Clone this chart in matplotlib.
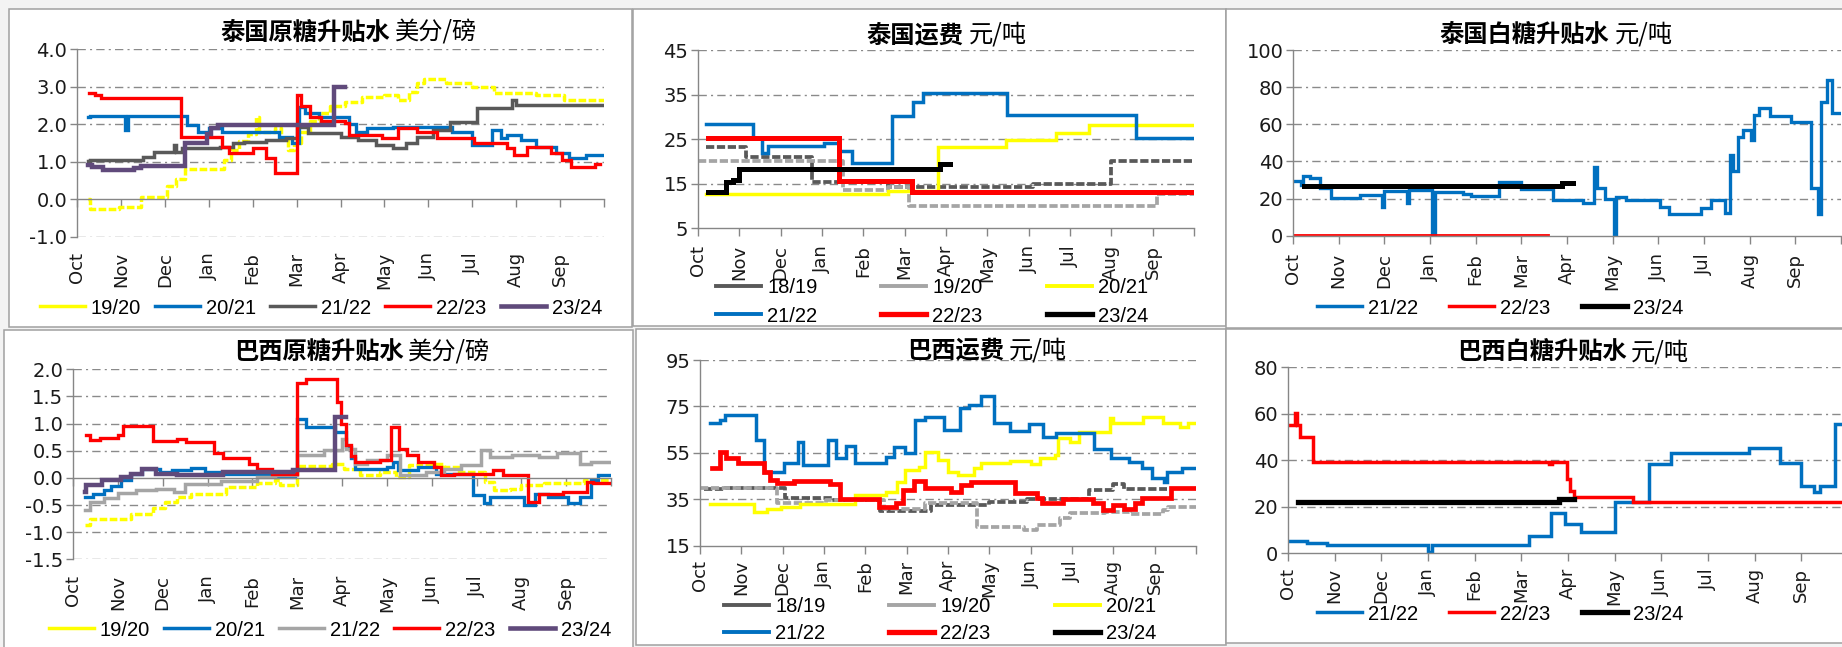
import matplotlib
matplotlib.use('Agg')
import matplotlib.pyplot as plt
from matplotlib.lines import Line2D
from matplotlib.patches import Rectangle
from matplotlib.font_manager import FontProperties
import matplotlib.transforms as mtransforms

W, H = 1842, 647
fig = plt.figure(figsize=(W / 100, H / 100), dpi=100, facecolor='#f3f3f3')

MONTHS = ['Oct', 'Nov', 'Dec', 'Jan', 'Feb', 'Mar', 'Apr', 'May', 'Jun', 'Jul', 'Aug', 'Sep']

# ---------------- data: (month index since 1 Oct, value) breakpoints ----------------
# Thailand raw sugar premium (US cents/lb)
th_raw_1920 = [(0.25, 0.0), (0.3, -0.25), (0.95, -0.2), (1.45, 0.05), (2.05, 0.35), (2.25, 0.55), (2.45, 0.8),
               (3.35, 1.05), (3.5, 1.3), (3.7, 1.55), (3.9, 1.75), (4.08, 2.2), (4.15, 1.8), (4.5, 1.9), (4.65, 1.6),
               (4.8, 1.3), (4.95, 1.5), (5.1, 1.8), (5.3, 2.1), (5.5, 2.3), (5.75, 2.5), (6.1, 2.6), (6.5, 2.72),
               (7.0, 2.78), (7.3, 2.65), (7.55, 2.85), (7.75, 3.1), (7.9, 3.22), (8.4, 3.1), (9.0, 3.0), (9.5, 2.84),
               (10.45, 2.78), (11.1, 2.65), (12.0, 2.65)]
th_raw_2021 = [(0.24, 2.19), (0.3, 2.22), (1.1, 1.85), (1.15, 2.22), (2.5, 1.98), (2.75, 1.8), (3.0, 1.9), (3.3, 1.8),
               (4.6, 1.67), (4.9, 1.5), (5.05, 2.47), (5.2, 2.3), (5.5, 2.2), (6.2, 2.0), (6.35, 1.8), (6.6, 1.9),
               (7.2, 1.94), (8.55, 1.8), (9.0, 1.45), (9.45, 1.85), (9.65, 1.63), (9.8, 1.72), (10.1, 1.58),
               (10.45, 1.4), (10.9, 1.23), (11.2, 1.1), (11.6, 1.18), (12.0, 1.18)]
th_raw_2122 = [(0.24, 1.03), (0.3, 1.05), (1.5, 1.13), (1.75, 1.27), (2.2, 1.45), (2.25, 1.27), (2.4, 1.36),
               (3.25, 1.4), (3.55, 1.5), (3.8, 1.53), (4.3, 1.58), (4.75, 1.63), (5.0, 1.94), (5.25, 1.76),
               (6.0, 1.67), (6.4, 1.58), (6.8, 1.45), (7.2, 1.36), (7.5, 1.5), (7.75, 1.67), (8.1, 1.85),
               (8.5, 2.07), (9.1, 2.43), (9.9, 2.65), (10.0, 2.52), (12.0, 2.52)]
th_raw_2223 = [(0.28, 2.84), (0.4, 2.78), (0.55, 2.7), (2.37, 1.67), (3.3, 1.4), (3.45, 1.23), (4.0, 1.36),
               (4.3, 1.1), (4.5, 0.7), (5.0, 2.78), (5.1, 2.5), (5.3, 2.2), (5.55, 2.1), (6.1, 2.03), (6.2, 1.72),
               (6.95, 1.63), (7.3, 1.9), (7.75, 1.8), (8.2, 1.63), (9.05, 1.5), (9.8, 1.36), (9.95, 1.18),
               (10.25, 1.4), (10.8, 1.23), (11.05, 1.05), (11.25, 0.87), (11.8, 0.95), (11.9, 0.95)]
th_raw_2324 = [(0.24, 0.9), (0.35, 0.85), (0.6, 0.78), (1.3, 0.83), (1.45, 0.89), (2.45, 1.5), (2.95, 1.75),
               (3.05, 1.9), (3.2, 1.98), (5.85, 3.0), (6.1, 3.0)]

# Thailand freight (yuan/t)
th_frt_1819 = [(0.2, 23.3), (1.15, 21.0), (2.75, 15.3), (4.6, 14.3), (8.1, 14.9), (10.0, 20.1), (11.95, 20.1)]
th_frt_1920 = [(0.0, 20.1), (3.5, 13.6), (4.6, 14.3), (5.1, 10.1), (11.1, 12.6), (12.0, 12.6)]
th_frt_2021 = [(0.2, 12.6), (4.6, 13.4), (5.8, 23.3), (7.45, 24.8), (8.65, 26.3), (9.45, 28.2), (12.0, 28.2)]
th_frt_2122 = [(0.2, 28.3), (1.33, 25.3), (1.55, 22.0), (1.7, 23.5), (3.06, 24.2), (3.4, 22.3), (3.72, 19.6),
               (4.69, 30.2), (5.2, 33.3), (5.45, 35.3), (7.47, 30.4), (10.6, 25.2), (12.0, 25.2)]
th_frt_2223 = [(0.24, 25.3), (3.42, 15.5), (5.17, 13.2), (12.0, 13.2)]
th_frt_2324 = [(0.24, 13.1), (0.68, 15.3), (0.85, 15.8), (0.98, 18.3), (5.85, 19.4), (6.1, 19.4)]

# Thailand white sugar premium (yuan/t)
th_wht_2122 = [(0.0, 29.4), (0.18, 27.3), (0.22, 32.0), (0.37, 31.2), (0.6, 25.5), (0.84, 20.1), (1.46, 21.9),
               (1.95, 15.6), (2.0, 24.2), (2.5, 17.4), (2.55, 24.6), (3.05, 0.0), (3.12, 23.7), (3.72, 22.3),
               (3.9, 21.4), (4.5, 28.7), (5.0, 25.1), (5.7, 19.2), (6.36, 17.4), (6.6, 37.2), (6.65, 25.5),
               (6.83, 20.0), (7.02, 0.0), (7.08, 21.0), (7.3, 19.2), (8.03, 15.6), (8.23, 11.5), (8.93, 14.7),
               (9.16, 19.2), (9.47, 12.0), (9.58, 43.4), (9.63, 34.8), (9.74, 53.3), (9.86, 57.0), (10.02, 51.5),
               (10.1, 65.0), (10.2, 68.6), (10.44, 64.5), (10.9, 61.4), (11.35, 25.5), (11.5, 11.5), (11.57, 72.0),
               (11.7, 84.0), (11.8, 66.0), (12.05, 66.0)]
th_wht_2223 = [(0.0, 0.3), (5.6, 0.3)]
th_wht_2324 = [(0.25, 26.7), (5.9, 28.2), (6.13, 28.2)]

# Brazil raw sugar premium (US cents/lb)
br_raw_1920 = [(0.26, -0.87), (0.37, -0.75), (1.3, -0.67), (1.78, -0.56), (2.05, -0.44), (2.33, -0.35),
               (2.64, -0.29), (3.42, -0.17), (4.1, -0.1), (4.5, -0.04), (4.62, -0.13), (5.0, 0.21), (5.77, 0.26),
               (6.05, 0.17), (6.4, 0.06), (6.85, 0.11), (7.2, 0.02), (7.5, 0.23), (7.7, 0.26), (8.27, 0.2),
               (8.6, 0.11), (9.2, -0.07), (9.4, -0.23), (9.75, -0.2), (10.0, -0.13), (10.5, -0.1), (11.4, -0.04),
               (12.0, -0.04)]
br_raw_2021 = [(0.26, -0.35), (0.45, -0.29), (0.7, -0.23), (0.85, -0.15), (1.08, -0.04), (1.3, 0.08),
               (1.55, 0.17), (1.94, 0.11), (2.2, 0.14), (2.64, 0.19), (2.95, 0.11), (3.34, 0.08), (4.5, 0.02),
               (4.95, 0.14), (5.0, 1.09), (5.2, 0.94), (5.84, 0.85), (6.08, 0.57), (6.2, 0.36), (6.3, 0.17),
               (7.0, 0.2), (7.13, 0.29), (7.25, 0.14), (7.7, 0.2), (8.1, 0.08), (8.93, -0.32), (9.16, -0.47),
               (9.3, -0.35), (10.05, -0.5), (10.3, -0.29), (10.6, -0.35), (11.05, -0.47), (11.3, -0.35),
               (11.55, -0.04), (11.7, 0.05), (12.0, 0.05)]
br_raw_2122 = [(0.26, -0.6), (0.37, -0.44), (0.69, -0.38), (1.0, -0.28), (1.4, -0.23), (1.86, -0.2),
               (2.25, -0.26), (2.5, -0.12), (3.3, -0.05), (4.1, 0.02), (4.5, 0.05), (5.0, 0.42), (5.6, 0.51),
               (6.0, 0.72), (6.1, 0.54), (6.3, 0.26), (6.55, 0.33), (7.0, 0.42), (7.3, 0.05), (7.87, 0.11),
               (8.27, 0.17), (8.65, 0.23), (9.1, 0.51), (9.3, 0.39), (9.8, 0.42), (10.4, 0.39), (10.8, 0.45),
               (11.3, 0.26), (11.55, 0.29), (12.0, 0.29)]
br_raw_2223 = [(0.3, 0.79), (0.38, 0.7), (0.6, 0.74), (1.0, 0.79), (1.12, 0.95), (1.78, 0.68), (2.33, 0.72),
               (2.52, 0.66), (3.15, 0.45), (3.34, 0.37), (3.93, 0.25), (4.1, 0.17), (4.44, 0.07), (5.0, 1.74),
               (5.2, 1.83), (5.88, 1.4), (5.98, 1.0), (6.08, 0.6), (6.2, 0.4), (6.3, 0.29), (6.85, 0.33),
               (7.1, 0.94), (7.27, 0.54), (7.45, 0.42), (7.7, 0.29), (8.05, 0.2), (8.2, 0.05), (8.5, 0.08),
               (9.36, 0.14), (9.6, 0.05), (10.15, -0.44), (10.4, -0.29), (10.92, -0.26), (11.47, -0.07),
               (11.6, -0.1), (12.0, -0.1)]
br_raw_2324 = [(0.26, -0.26), (0.3, -0.14), (0.65, -0.04), (1.08, 0.02), (1.3, 0.08), (1.55, 0.17), (1.85, 0.08),
               (2.33, 0.05), (3.35, 0.11), (4.9, 0.14), (5.84, 1.12), (6.08, 1.12)]

# Brazil freight (yuan/t)
br_frt_1819 = [(0.1, 39.5), (0.6, 40.0), (2.05, 35.5), (3.2, 34.5), (4.35, 30.0), (5.6, 32.5), (7.0, 34.0),
               (7.9, 35.0), (9.4, 39.0), (10.0, 41.5), (10.25, 39.5), (11.3, 39.5)]
br_frt_1920 = [(0.0, 39.7), (1.87, 33.2), (3.06, 34.7), (4.45, 31.0), (5.45, 33.2), (6.7, 23.2), (7.83, 21.7),
               (8.15, 23.9), (8.7, 26.8), (8.94, 29.0), (9.8, 29.7), (10.4, 28.5), (11.2, 30.4), (11.33, 31.8),
               (12.0, 31.8)]
br_frt_2021 = [(0.24, 33.0), (1.3, 29.7), (1.63, 30.8), (1.95, 31.8), (2.42, 33.0), (3.75, 36.8), (4.5, 38.3),
               (4.77, 42.6), (4.97, 47.6), (5.3, 49.0), (5.45, 55.5), (5.75, 51.9), (6.0, 46.9), (6.24, 45.5),
               (6.64, 48.3), (6.8, 50.5), (7.5, 51.5), (8.0, 50.0), (8.23, 52.6), (8.6, 54.0), (8.66, 61.3),
               (8.95, 59.5), (9.18, 64.0), (9.92, 69.9), (10.0, 67.7), (10.72, 70.6), (11.2, 67.7), (11.62, 66.3),
               (11.8, 67.7), (12.0, 67.7)]
br_frt_2122 = [(0.24, 68.0), (0.48, 69.2), (0.6, 71.3), (1.35, 60.5), (1.55, 46.7), (2.03, 50.5), (2.38, 59.5),
               (2.5, 49.8), (3.1, 60.5), (3.3, 52.6), (3.54, 58.1), (3.74, 50.5), (4.5, 53.4), (4.69, 57.7),
               (4.97, 54.8), (5.2, 69.2), (5.45, 70.6), (5.9, 64.9), (6.28, 74.2), (6.52, 75.6), (6.8, 79.7),
               (7.12, 67.7), (7.5, 64.4), (7.95, 67.4), (8.3, 62.0), (8.62, 63.4), (9.54, 56.7), (9.94, 52.6),
               (10.37, 51.2), (10.7, 48.3), (10.93, 44.0), (11.22, 42.6), (11.3, 46.9), (11.65, 48.3), (12.0, 48.3)]
br_frt_2223 = [(0.28, 48.3), (0.48, 55.5), (0.64, 52.6), (0.91, 50.5), (1.55, 46.9), (1.7, 43.3), (1.87, 41.9),
               (2.27, 42.9), (3.14, 41.5), (3.38, 35.1), (4.33, 31.8), (4.73, 33.3), (4.9, 39.2), (5.17, 42.9),
               (5.45, 39.7), (6.08, 38.3), (6.32, 41.2), (6.56, 42.6), (7.63, 37.6), (8.15, 35.4), (8.27, 33.3),
               (8.78, 35.1), (9.5, 33.3), (9.74, 30.4), (9.98, 32.5), (10.25, 30.8), (10.53, 33.3), (10.7, 35.7),
               (11.4, 39.7), (12.0, 39.7)]

# Brazil white sugar premium (yuan/t)
br_wht_2122 = [(0.0, 5.3), (0.41, 4.6), (0.83, 3.6), (3.0, 0.7), (3.08, 3.6), (5.16, 7.5), (5.63, 17.5),
               (5.93, 12.6), (6.28, 9.3), (7.0, 22.2), (7.74, 38.4), (8.2, 43.3), (9.88, 45.2), (10.54, 39.0),
               (11.0, 29.0), (11.27, 26.5), (11.4, 29.1), (11.73, 55.5), (12.1, 55.5)]
br_wht_2223 = [(0.0, 55.2), (0.14, 60.2), (0.2, 55.0), (0.25, 50.2), (0.53, 39.4), (5.6, 38.4), (5.65, 39.4),
               (5.97, 32.0), (6.05, 27.0), (6.12, 24.4), (7.39, 22.2), (12.1, 22.2)]
br_wht_2324 = [(0.21, 22.2), (5.8, 23.2), (6.12, 23.2)]

# ---------------- styling ----------------
YEL, BLU, DGR, LGR, RED, PUR, BLK = '#FFFF00', '#0070C0', '#595959', '#A5A5A5', '#FF0000', '#604A7B', '#000000'
CJK = ['Noto Sans CJK SC', 'DejaVu Sans']
NUM = ['Liberation Sans', 'DejaVu Sans']
AXC = '#868686'
GRID_LS = (0, (6, 3, 1.5, 3))


def fx(px):
    return px / W


def fy(py):
    return 1 - py / H


def box(x0, y0, x1, y1):
    fig.patches.append(Rectangle((fx(x0), fy(y1)), (x1 - x0) / W, (y1 - y0) / H, transform=fig.transFigure,
                                 facecolor='white', edgecolor='#a0a0a0', lw=1.1, zorder=-5))


def panel(x0, x1, ytop, ybot, ylim, yticks, fmt, grid_vals, label_top, zero_axis=False):
    ax = fig.add_axes([fx(x0), fy(ybot), (x1 - x0) / W, (ybot - ytop) / H])
    ax.set_zorder(2)
    ax.patch.set_alpha(0)
    ax.set_xlim(0, 12)
    ax.set_ylim(*ylim)
    for s in ('top', 'right'):
        ax.spines[s].set_visible(False)
    for s in ('left', 'bottom'):
        ax.spines[s].set_color(AXC)
        ax.spines[s].set_linewidth(1.0)
    if zero_axis:
        ax.spines['bottom'].set_position(('data', 0))
    ax.set_xticks(range(13))
    ax.tick_params(axis='x', direction='out', length=6, width=1, color=AXC, labelbottom=False)
    ax.set_yticks(yticks)
    ax.set_yticklabels([fmt.format(v) for v in yticks])
    ax.tick_params(axis='y', direction='out', length=5, width=1, color=AXC, pad=2, labelsize=14,
                   labelcolor='#1a1a1a')
    for lab in ax.get_yticklabels():
        lab.set_family('DejaVu Sans')
    for g in grid_vals:
        ax.axhline(g, color='#8a8a8a', lw=1.0, ls=GRID_LS, zorder=0.5)
    trans = mtransforms.blended_transform_factory(ax.transData, fig.transFigure)
    for i, m in enumerate(MONTHS):
        ax.text(i, fy(label_top), m, rotation=90, ha='center', va='top', fontsize=13,
                family='DejaVu Sans', color='#1a1a1a', transform=trans, clip_on=False)
    return ax


def draw(ax, pts, color, lw, dashed=False, z=2):
    xs = [p[0] for p in pts]
    ys = [p[1] for p in pts]
    ln, = ax.plot(xs, ys, drawstyle='steps-post', color=color, lw=lw, zorder=z,
                  solid_joinstyle='miter')
    if dashed:
        ln.set_dashes((2.2, 0.7))
    return ln


def title(xsplit, xunit, y, bold, unit):
    fig.text(fx(xsplit), fy(y), bold, ha='right', va='center', fontsize=17.5, fontweight='bold', family=CJK,
             zorder=5)
    fig.text(fx(xunit), fy(y), unit, ha='left', va='center', fontsize=17.5, family=CJK, zorder=5)


def legend(specs, cx, cy, ncol, colsp_px, labelspacing=0.3):
    fs = 14.5
    em = fs * 100 / 72
    handles = [Line2D([], [], color=c, lw=lw) for (_, c, lw) in specs]
    labels = [s[0] for s in specs]
    lg = fig.legend(handles, labels, loc='center', bbox_to_anchor=(fx(cx), fy(cy)), ncol=ncol, frameon=False,
                    prop=FontProperties(family=NUM, size=fs), handlelength=45 / em, handletextpad=6 / em,
                    columnspacing=colsp_px / em, labelspacing=labelspacing, borderpad=0, borderaxespad=0)
    lg.set_zorder(5)


# ---------------- panel boxes ----------------
box(9, 9, 632, 327)
box(633, 9, 1226, 326)
box(1226, 9, 1860, 328)
box(4, 330, 633, 660)
box(636, 329, 1226, 645)
box(1226, 329, 1860, 643)

# ---------------- panel 1 : Thailand raw premium ----------------
ax1 = panel(77, 604, 49.3, 236.7, (-1, 4), [-1, 0, 1, 2, 3, 4], '{:.1f}', [-1, 1, 2, 3, 4], 252, zero_axis=True)
draw(ax1, th_raw_1920, YEL, 2.5, dashed=True)
draw(ax1, th_raw_2021, BLU, 2.4)
draw(ax1, th_raw_2122, DGR, 2.5)
draw(ax1, th_raw_2223, RED, 2.4)
draw(ax1, th_raw_2324, PUR, 3.2, z=3)
title(390, 395, 33, '泰国原糖升贴水', '美分/磅')
legend([('19/20', YEL, 2.5), ('20/21', BLU, 2.5), ('21/22', DGR, 2.5), ('22/23', RED, 2.5), ('23/24', PUR, 3.3)],
       321, 308, 5, 14)

# ---------------- panel 2 : Thailand freight ----------------
ax2 = panel(698, 1194, 50, 228.3, (5, 45), [5, 15, 25, 35, 45], '{:d}', [15, 25, 35, 45], 245)
draw(ax2, th_frt_1819, DGR, 2.7, dashed=True)
draw(ax2, th_frt_1920, LGR, 2.7, dashed=True)
draw(ax2, th_frt_2021, YEL, 2.5)
draw(ax2, th_frt_2122, BLU, 2.5)
draw(ax2, th_frt_2223, RED, 3.6, z=3)
draw(ax2, th_frt_2324, BLK, 3.6, z=4)
title(963, 969, 35, '泰国运费', '元/吨')
legend([('18/19', DGR, 2.8), ('21/22', BLU, 2.8), ('19/20', LGR, 2.8), ('22/23', RED, 3.8),
        ('20/21', YEL, 2.8), ('23/24', BLK, 3.8)], 932, 302, 3, 64, labelspacing=0.45)

# ---------------- panel 3 : Thailand white premium ----------------
ax3 = panel(1293, 1841, 50, 235.7, (0, 100), [0, 20, 40, 60, 80, 100], '{:d}', [20, 40, 60, 80, 100], 253)
draw(ax3, th_wht_2122, BLU, 2.4)
draw(ax3, th_wht_2223, RED, 1.3)
draw(ax3, th_wht_2324, BLK, 3.6, z=3)
title(1609, 1615, 35, '泰国白糖升贴水', '元/吨')
legend([('21/22', BLU, 2.5), ('22/23', RED, 2.5), ('23/24', BLK, 3.8)], 1500, 308, 3, 31)

# ---------------- panel 4 : Brazil raw premium ----------------
ax4 = panel(73, 611, 369.3, 559.3, (-1.5, 2.0), [-1.5, -1.0, -0.5, 0.0, 0.5, 1.0, 1.5, 2.0], '{:.1f}',
            [-1.5, -1.0, -0.5, 0.5, 1.0, 1.5, 2.0], 575, zero_axis=True)
draw(ax4, br_raw_1920, YEL, 2.5, dashed=True)
draw(ax4, br_raw_2021, BLU, 2.4)
draw(ax4, br_raw_2122, LGR, 2.5)
draw(ax4, br_raw_2223, RED, 2.4)
draw(ax4, br_raw_2324, PUR, 3.2, z=3)
title(404, 408, 352, '巴西原糖升贴水', '美分/磅')
legend([('19/20', YEL, 2.5), ('20/21', BLU, 2.5), ('21/22', LGR, 2.5), ('22/23', RED, 2.5), ('23/24', PUR, 3.3)],
       330, 630, 5, 14)

# ---------------- panel 5 : Brazil freight ----------------
ax5 = panel(700, 1196, 360, 545.7, (15, 95), [15, 35, 55, 75, 95], '{:d}', [35, 55, 75, 95], 560)
draw(ax5, br_frt_1819, DGR, 2.7, dashed=True)
draw(ax5, br_frt_1920, LGR, 2.7, dashed=True)
draw(ax5, br_frt_2021, YEL, 2.5)
draw(ax5, br_frt_2122, BLU, 2.5)
draw(ax5, br_frt_2223, RED, 3.4, z=3)
title(1004, 1009, 350, '巴西运费', '元/吨')
legend([('18/19', DGR, 2.8), ('21/22', BLU, 2.8), ('19/20', LGR, 2.8), ('22/23', RED, 3.8),
        ('20/21', YEL, 2.8), ('23/24', BLK, 3.8)], 940, 620, 3, 64, labelspacing=0.4)

# ---------------- panel 6 : Brazil white premium ----------------
ax6 = panel(1288, 1848, 367.3, 553.3, (0, 80), [0, 20, 40, 60, 80], '{:d}', [20, 40, 60, 80], 568)
draw(ax6, br_wht_2122, BLU, 2.5)
draw(ax6, br_wht_2223, RED, 2.5)
draw(ax6, br_wht_2324, BLK, 3.8, z=3)
title(1627, 1631, 352, '巴西白糖升贴水', '元/吨')
legend([('21/22', BLU, 2.5), ('22/23', RED, 2.5), ('23/24', BLK, 3.8)], 1500, 614, 3, 31)

fig.savefig('out.png', dpi=100, facecolor=fig.get_facecolor())
